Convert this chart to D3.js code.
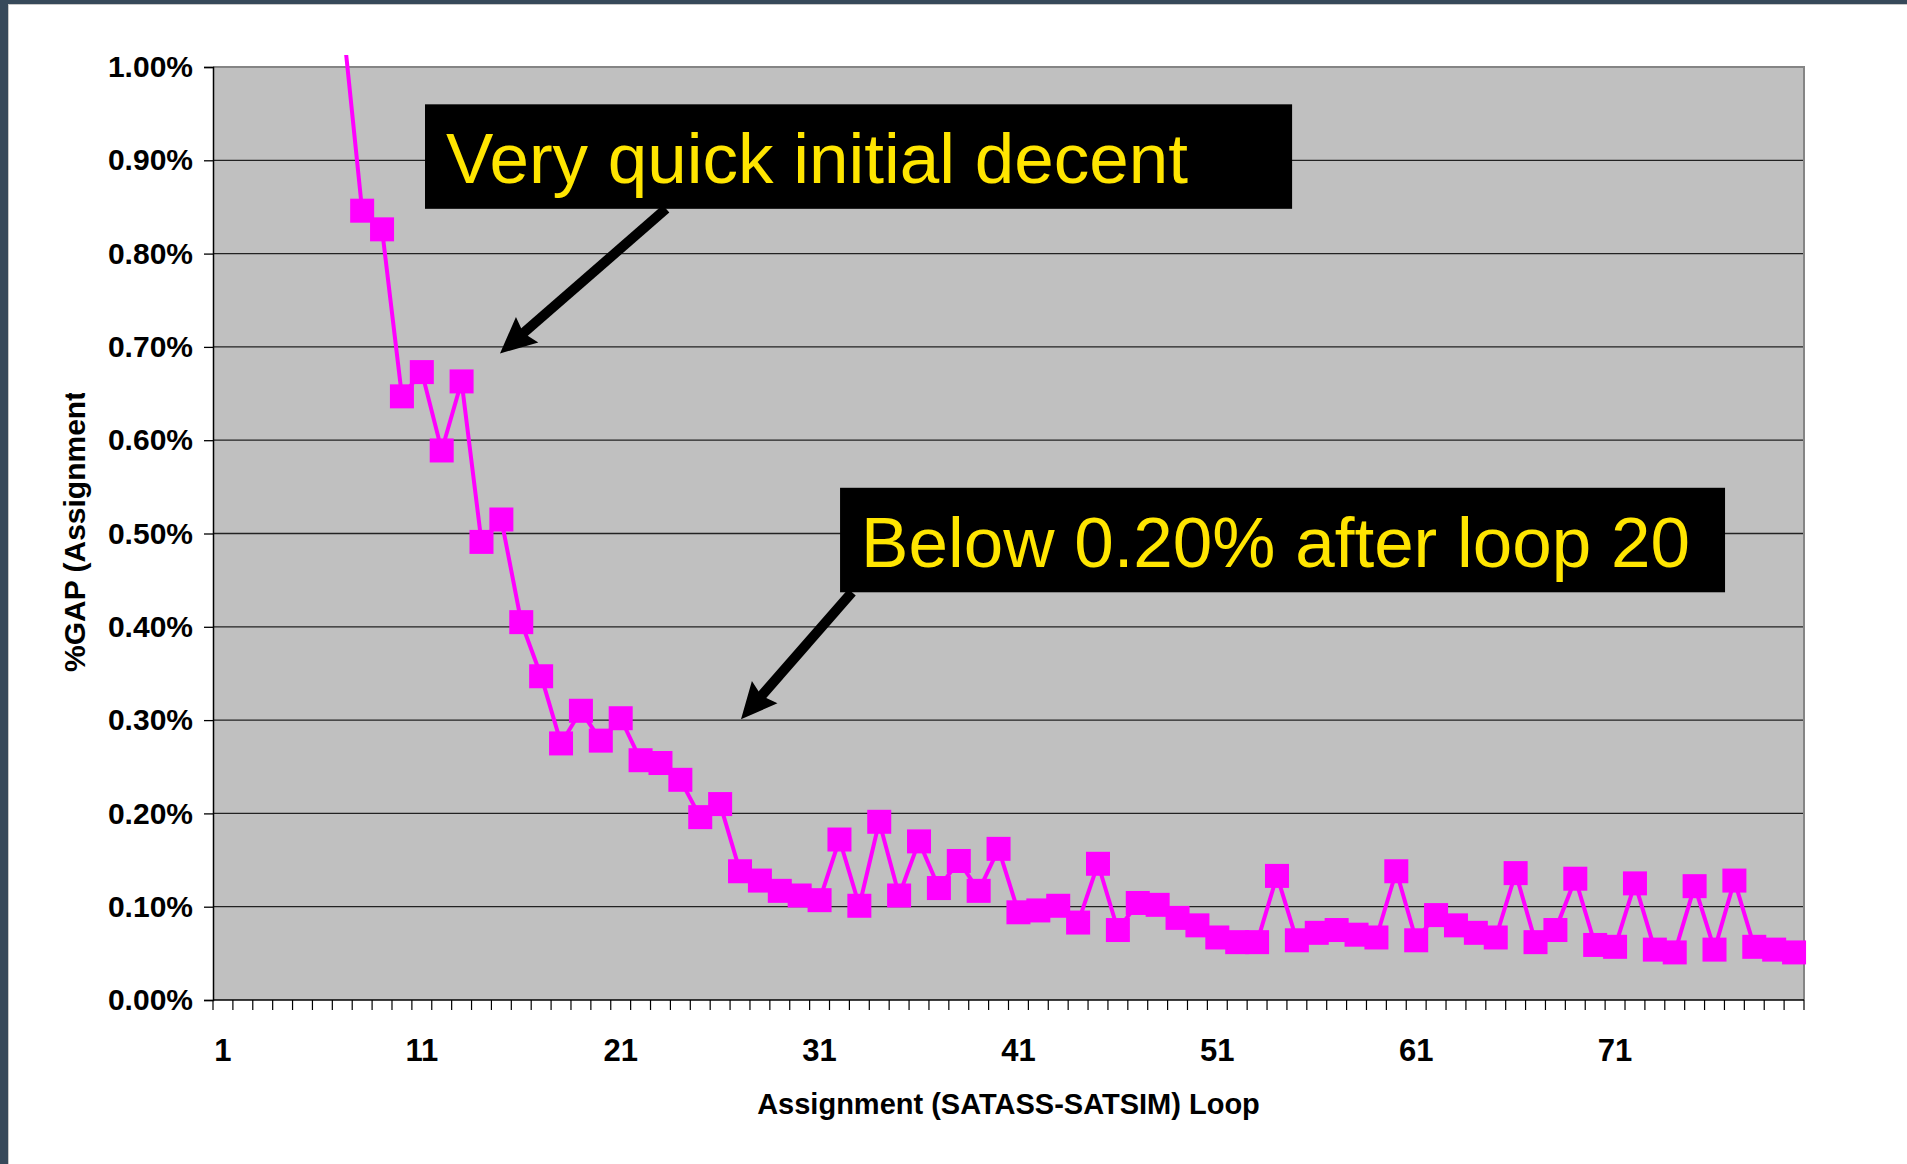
<!DOCTYPE html>
<html>
<head>
<meta charset="utf-8">
<script src="https://cdn.jsdelivr.net/npm/d3@7"></script>
<style>
	html, body { margin: 0; padding: 0; background: #fff; }
	svg { display: block; }
	text { font-family: "Liberation Sans", Arial, sans-serif; }
</style>
</head>
<body>
<svg id="chart"></svg>
<script>

// loop numbers on the category axis
var loops = d3.range(1, 81);

// %GAP per loop (in percent); loops 1-6 sit far above the visible range
var gapPct = [
	null, null, null, null, null, null, 1.054, 0.846, 0.826, 0.647,
	0.673, 0.589, 0.663, 0.491, 0.515, 0.405, 0.347, 0.275, 0.310, 0.278,
	0.302, 0.257, 0.254, 0.236, 0.196, 0.210, 0.138, 0.128, 0.117, 0.112,
	0.107, 0.172, 0.101, 0.191, 0.112, 0.170, 0.120, 0.149, 0.117, 0.162,
	0.094, 0.096, 0.101, 0.083, 0.146, 0.075, 0.104, 0.102, 0.088, 0.080,
	0.067, 0.062, 0.062, 0.133, 0.064, 0.072, 0.075, 0.070, 0.067, 0.138,
	0.064, 0.091, 0.080, 0.072, 0.067, 0.136, 0.062, 0.075, 0.130, 0.059,
	0.057, 0.125, 0.054, 0.051, 0.122, 0.054, 0.128, 0.057, 0.054, 0.051
];

var yTicks = [0, 0.1, 0.2, 0.3, 0.4, 0.5, 0.6, 0.7, 0.8, 0.9, 1.0];
var xTickLabels = [1, 11, 21, 31, 41, 51, 61, 71];

var xTitle = "Assignment (SATASS-SATSIM) Loop";
var yTitle = "%GAP (Assignment)";
var noteTexts = ["Very quick initial decent", "Below 0.20% after loop 20"];


var width = 1907;
var height = 1164;
var plot = { left: 213, right: 1804, top: 67, bottom: 1000 };

var svg = d3.select("#chart")
	.attr("width", width)
	.attr("height", height)
	.attr("viewBox", "0 0 " + width + " " + height);

// slide frame
svg.append("rect").attr("width", width).attr("height", height).attr("fill", "#fff");
svg.append("rect").attr("x", 0).attr("y", 0).attr("width", width).attr("height", 4).attr("fill", "#37495a");
svg.append("rect").attr("x", 0).attr("y", 0).attr("width", 8).attr("height", height).attr("fill", "#37495a");
svg.append("line").attr("x1", 8).attr("x2", width).attr("y1", 4.5).attr("y2", 4.5).attr("stroke", "#c8c8c8");
svg.append("line").attr("x1", 8.5).attr("x2", 8.5).attr("y1", 4).attr("y2", height).attr("stroke", "#c8c8c8");

var defs = svg.append("defs");
defs.append("clipPath").attr("id", "seriesClip")
	.append("rect").attr("x", 0).attr("y", plot.top - 12).attr("width", width).attr("height", height);
defs.append("clipPath").attr("id", "yTitleClip")
	.append("rect").attr("x", 0).attr("y", 393).attr("width", 200).attr("height", 500);

var x = d3.scaleBand()
	.domain(loops)
	.range([plot.left, plot.right]);

var y = d3.scaleLinear()
	.domain([0, 1])
	.range([plot.bottom, plot.top]);

// fractional loop position, used to place the callouts
var xPos = d3.scaleLinear()
	.domain([0.5, loops.length + 0.5])
	.range([plot.left, plot.right]);

// plot area
svg.append("rect")
	.attr("x", plot.left)
	.attr("y", plot.top)
	.attr("width", plot.right - plot.left)
	.attr("height", plot.bottom - plot.top)
	.attr("fill", "#c0c0c0");

svg.append("g")
	.attr("class", "grid")
	.selectAll("line")
	.data(yTicks.filter(function(d) { return d > 0 && d < 1; }))
	.enter().append("line")
	.attr("x1", plot.left)
	.attr("x2", plot.right)
	.attr("y1", function(d) { return y(d); })
	.attr("y2", function(d) { return y(d); })
	.attr("stroke", "#222")
	.attr("stroke-width", 1.3);

// top and right border of the plot
svg.append("path")
	.attr("d", "M" + plot.left + "," + plot.top + "H" + plot.right + "V" + plot.bottom)
	.attr("fill", "none")
	.attr("stroke", "#858585")
	.attr("stroke-width", 2);

// y axis
var yAxis = svg.append("g")
	.attr("transform", "translate(" + plot.left + ",0)")
	.call(d3.axisLeft(y)
		.tickValues(yTicks)
		.tickSize(9)
		.tickPadding(11)
		.tickFormat(function(d) { return d.toFixed(2) + "%"; }));

yAxis.select(".domain").attr("stroke", "#000").attr("stroke-width", 1.5);
yAxis.selectAll(".tick line").attr("stroke", "#000").attr("stroke-width", 1.3);
yAxis.selectAll("text")
	.attr("fill", "#000")
	.style("font-size", "30px")
	.style("font-weight", "bold");

// x axis: ticks between categories, labels every tenth loop
var xAxis = svg.append("g")
	.attr("transform", "translate(0," + plot.bottom + ")");

xAxis.append("line")
	.attr("x1", plot.left)
	.attr("x2", plot.right)
	.attr("stroke", "#000")
	.attr("stroke-width", 1.5);

xAxis.selectAll(".sep")
	.data(loops.map(function(d) { return x(d); }).concat([plot.right]))
	.enter().append("line")
	.attr("class", "sep")
	.attr("x1", function(d) { return d; })
	.attr("x2", function(d) { return d; })
	.attr("y1", 0)
	.attr("y2", 10)
	.attr("stroke", "#000")
	.attr("stroke-width", 1.2);

xAxis.selectAll(".lbl")
	.data(xTickLabels)
	.enter().append("text")
	.attr("class", "lbl")
	.attr("x", function(d) { return x(d) + x.bandwidth() / 2; })
	.attr("y", 61)
	.attr("text-anchor", "middle")
	.style("font-size", "31px")
	.style("font-weight", "bold")
	.text(function(d) { return d; });

svg.append("text")
	.attr("x", (plot.left + plot.right) / 2)
	.attr("y", 1114)
	.attr("text-anchor", "middle")
	.style("font-size", "29px")
	.style("font-weight", "bold")
	.text(xTitle);

svg.append("g")
	.attr("clip-path", "url(#yTitleClip)")
	.append("text")
	.attr("transform", "translate(85,672) rotate(-90)")
	.attr("text-anchor", "start")
	.style("font-size", "30px")
	.style("font-weight", "bold")
	.text(yTitle);

// series
var points = loops.map(function(d, i) { return { loop: d, value: gapPct[i] }; });

var line = d3.line()
	.defined(function(d) { return d.value != null; })
	.x(function(d) { return x(d.loop) + x.bandwidth() / 2; })
	.y(function(d) { return y(d.value); });

var series = svg.append("g").attr("clip-path", "url(#seriesClip)");

series.append("path")
	.datum(points)
	.attr("d", line)
	.attr("fill", "none")
	.attr("stroke", "#ff00ff")
	.attr("stroke-width", 4);

var markerSize = 24;

series.selectAll("rect")
	.data(points.filter(function(d) { return d.value != null; }))
	.enter().append("rect")
	.attr("x", function(d) { return x(d.loop) + x.bandwidth() / 2 - markerSize / 2; })
	.attr("y", function(d) { return y(d.value) - markerSize / 2; })
	.attr("width", markerSize)
	.attr("height", markerSize)
	.attr("fill", "#ff00ff");

// callouts, placed in loop / percent units
var notes = [
	{ text: noteTexts[0], x0: 11.16, x1: 54.76, y0: 0.960, y1: 0.848, from: [23.28, 0.848], to: [14.93, 0.693] },
	{ text: noteTexts[1], x0: 32.03, x1: 76.53, y0: 0.549, y1: 0.437, from: [32.63, 0.437], to: [27.05, 0.301] }
];

var noteG = svg.append("g").attr("class", "notes");

var noteSel = noteG.selectAll("g")
	.data(notes)
	.enter().append("g");

noteSel.append("rect")
	.attr("x", function(d) { return xPos(d.x0); })
	.attr("y", function(d) { return y(d.y0); })
	.attr("width", function(d) { return xPos(d.x1) - xPos(d.x0); })
	.attr("height", function(d) { return y(d.y1) - y(d.y0); })
	.attr("fill", "#000");

noteSel.append("text")
	.attr("x", function(d) { return xPos(d.x0) + 21; })
	.attr("y", function(d) { return y(d.y0) + 79; })
	.attr("fill", "#ffe500")
	.style("font-size", "71px")
	.text(function(d) { return d.text; });

function arrowHead(d) {
	var sx = xPos(d.from[0]), sy = y(d.from[1]);
	var tx = xPos(d.to[0]), ty = y(d.to[1]);
	var len = Math.sqrt((tx - sx) * (tx - sx) + (ty - sy) * (ty - sy));
	var ux = (tx - sx) / len, uy = (ty - sy) / len;
	var nx = -uy, ny = ux;
	var L = 36, W = 17, notch = 5;
	return "M" + tx + "," + ty +
		"L" + (tx - ux * L + nx * W) + "," + (ty - uy * L + ny * W) +
		"L" + (tx - ux * (L - notch)) + "," + (ty - uy * (L - notch)) +
		"L" + (tx - ux * L - nx * W) + "," + (ty - uy * L - ny * W) + "Z";
}

noteSel.append("line")
	.attr("x1", function(d) { return xPos(d.from[0]); })
	.attr("y1", function(d) { return y(d.from[1]); })
	.attr("x2", function(d) {
		var sx = xPos(d.from[0]), tx = xPos(d.to[0]), sy = y(d.from[1]), ty = y(d.to[1]);
		var len = Math.sqrt((tx - sx) * (tx - sx) + (ty - sy) * (ty - sy));
		return tx - (tx - sx) / len * 28;
	})
	.attr("y2", function(d) {
		var sx = xPos(d.from[0]), tx = xPos(d.to[0]), sy = y(d.from[1]), ty = y(d.to[1]);
		var len = Math.sqrt((tx - sx) * (tx - sx) + (ty - sy) * (ty - sy));
		return ty - (ty - sy) / len * 28;
	})
	.attr("stroke", "#000")
	.attr("stroke-width", 10);

noteSel.append("path")
	.attr("d", arrowHead)
	.attr("fill", "#000");

</script>
</body>
</html>
